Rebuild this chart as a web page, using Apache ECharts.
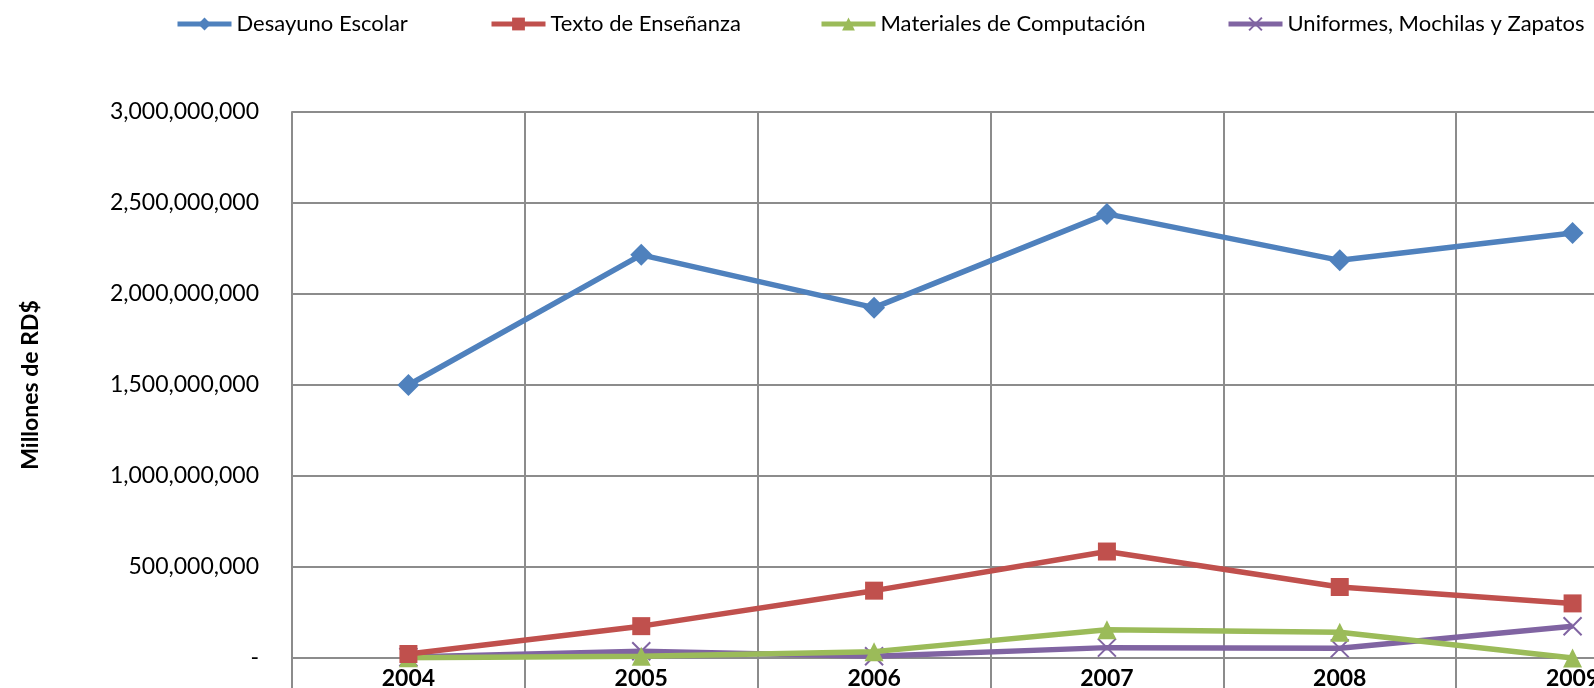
<!DOCTYPE html>
<html>
<head>
<meta charset="utf-8">
<script src="https://cdn.jsdelivr.net/npm/echarts@6/dist/echarts.min.js"></script>
<style>
html, body { margin: 0; padding: 0; background: #fff; }
#chart { width: 1594px; height: 688px; }
</style>
</head>
<body>
<div id="chart"></div>
<script>
var years = ['2004', '2005', '2006', '2007', '2008', '2009'];
var desayuno = [1500000000, 2215000000, 1925000000, 2440000000, 2185000000, 2335000000];
var texto = [22000000, 175000000, 370000000, 585000000, 390000000, 300000000];
var materiales = [2000000, 10000000, 35000000, 155000000, 141000000, 0];
var uniformes = [5000000, 37000000, 10000000, 57000000, 53000000, 174000000];

var names = ['Desayuno Escolar', 'Texto de Enseñanza', 'Materiales de Computación', 'Uniformes, Mochilas y Zapatos'];
var colors = ['#4F81BD', '#C0504D', '#9BBB59', '#8064A2'];
var legendLeft = [175, 489, 819, 1226];

var gridColor = '#8c8c8c';
var crossPath = 'path://M0,0 L10,10 M10,0 L0,10';

var dom = document.getElementById('chart');
var myChart = echarts.init(dom);

function makeLegend(i) {
    return {
        data: [names[i]],
        left: legendLeft[i],
        top: 13,
        padding: 0,
        itemWidth: 54,
        itemHeight: 16,
        itemGap: 0,
        lineStyle: { width: 5 },
        textStyle: { fontFamily: 'Lato', fontSize: 22, color: '#000' }
    };
}

function makeSeries(i, data, symbol, size) {
    return {
        name: names[i],
        type: 'line',
        data: data,
        symbol: symbol,
        symbolSize: size,
        showAllSymbol: true,
        lineStyle: { color: colors[i], width: 5.5 },
        itemStyle: {
            color: colors[i],
            borderColor: colors[i],
            borderWidth: symbol === crossPath ? 2 : 0
        },
        z: 10 - i
    };
}

var option = {
    backgroundColor: '#fff',
    animation: false,
    color: colors,
    legend: [makeLegend(0), makeLegend(1), makeLegend(2), makeLegend(3)],
    grid: [
        { left: 292, top: 112, width: 1397, height: 546, outerBoundsMode: 'none' },
        { left: 292, top: 658, width: 1397, height: 91, outerBoundsMode: 'none' }
    ],
    graphic: [{
        type: 'text',
        x: 31,
        y: 385,
        rotation: Math.PI / 2,
        style: {
            text: 'Millones de RD$',
            font: 'bold 23px Lato',
            fill: '#000',
            align: 'center',
            verticalAlign: 'middle'
        }
    }],
    xAxis: [{
        type: 'category',
        data: years,
        boundaryGap: true,
        axisTick: { show: false },
        axisLine: { lineStyle: { color: gridColor, width: 2 } },
        axisLabel: { fontFamily: 'Lato', fontSize: 23, fontWeight: 'bold', color: '#000', margin: 9 },
        splitLine: { show: true, lineStyle: { color: gridColor, width: 2 } },
        z: 3
    }, {
        gridIndex: 1,
        type: 'category',
        data: years,
        boundaryGap: true,
        axisTick: { show: false },
        axisLine: { show: false },
        axisLabel: { show: false },
        splitLine: { show: true, lineStyle: { color: gridColor, width: 2 } },
        z: 1
    }],
    yAxis: [{
        type: 'value',
        min: 0,
        max: 3000000000,
        interval: 500000000,
        axisTick: { show: false },
        axisLine: { show: true, lineStyle: { color: gridColor, width: 2 } },
        axisLabel: {
            fontFamily: 'Lato',
            fontSize: 23,
            color: '#000',
            margin: 33,
            formatter: function (v) {
                if (v === 0) return '-';
                return v.toLocaleString('en-US');
            }
        },
        splitLine: { show: true, lineStyle: { color: gridColor, width: 2 } }
    }, {
        gridIndex: 1,
        type: 'value',
        min: 0,
        max: 1,
        axisTick: { show: false },
        axisLabel: { show: false },
        axisLine: { show: true, lineStyle: { color: gridColor, width: 2 } },
        splitLine: { show: false }
    }],
    series: [
        makeSeries(0, desayuno, 'diamond', 22),
        makeSeries(1, texto, 'rect', 18),
        makeSeries(2, materiales, 'triangle', 19),
        makeSeries(3, uniformes, crossPath, 18)
    ]
};

myChart.setOption(option, true);
</script>
</body>
</html>
